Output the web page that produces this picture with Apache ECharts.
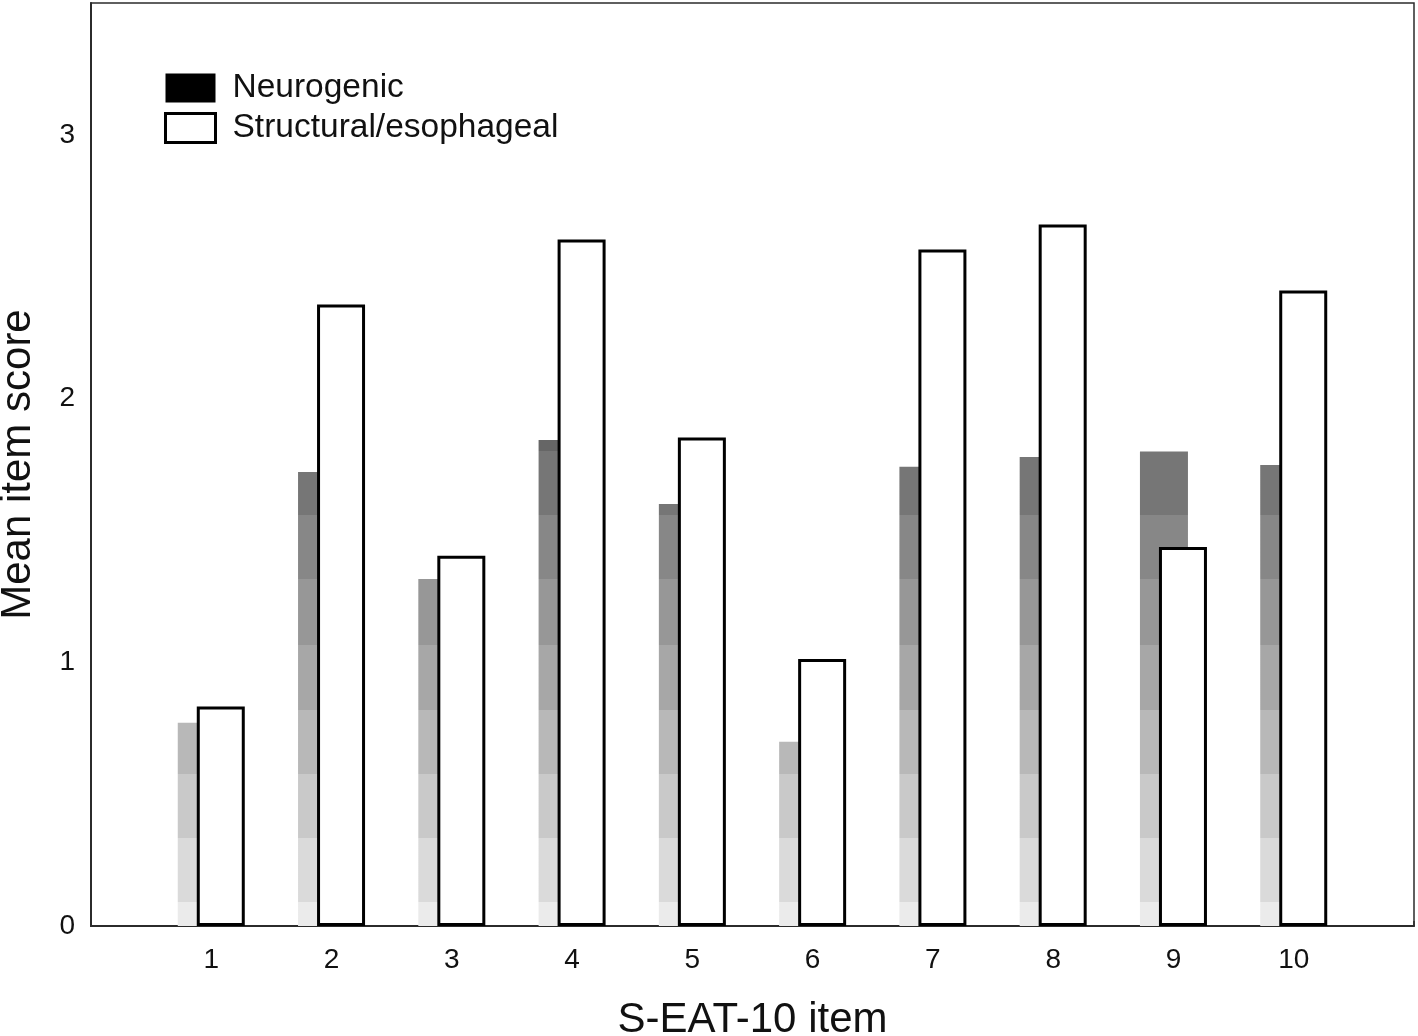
<!DOCTYPE html>
<html>
<head>
<meta charset="utf-8">
<script src="https://cdn.jsdelivr.net/npm/echarts@6/dist/echarts.min.js"></script>
<style>
html,body{margin:0;padding:0;background:#fff;}
#chart{width:1418px;height:1036px;}
</style>
</head>
<body>
<div id="chart"></div>
<script>
// ---- data ----
const categories = ['1','2','3','4','5','6','7','8','9','10'];
const neurogenic = [0.771, 1.722, 1.316, 1.843, 1.600, 0.699, 1.741, 1.778, 1.799, 1.748];
const structural = [0.832, 2.357, 1.404, 2.603, 1.852, 1.012, 2.565, 2.660, 1.437, 2.410];
const yTicks = [0, 1, 2, 3];
const seriesNames = ['Neurogenic', 'Structural/esophageal'];
// stepped grey fill of the neurogenic bars (upper edge of each band, value units)
const bandEdges = [0.091, 0.334, 0.577, 0.820, 1.067, 1.314, 1.557, 1.800, 2.044];
const bandColors = ['#ebebeb','#dadada','#c9c9c9','#b8b8b8','#a7a7a7','#979797','#878787','#767676','#666666'];

function bandFill(v) {
  // build colour stops from the top of the bar (offset 0) down to the base (offset 1)
  const stops = [];
  for (let i = bandEdges.length - 1; i >= 0; i--) {
    const lower = i === 0 ? 0 : bandEdges[i - 1];
    const upper = bandEdges[i];
    if (lower >= v) continue;
    const top = (v - Math.min(upper, v)) / v;
    const bottom = (v - lower) / v;
    stops.push({offset: top, color: bandColors[i]});
    stops.push({offset: bottom, color: bandColors[i]});
  }
  return {type: 'linear', x: 0, y: 0, x2: 0, y2: 1, colorStops: stops, global: false};
}

const font = 'Liberation Sans, Arial, Helvetica, sans-serif';
const chart = echarts.init(document.getElementById('chart'), null, {renderer: 'canvas'});

const option = {
  animation: false,
  backgroundColor: '#fff',
  textStyle: {fontFamily: font, color: '#111'},
  grid: {
    left: 91, right: 4, top: 3, bottom: 110,
    outerBoundsMode: 'none',
    containLabel: false,
    show: true, borderColor: '#2b2b2b', borderWidth: 1.5, backgroundColor: 'transparent'
  },
  legend: {
    orient: 'vertical',
    left: 159, top: 66,
    itemWidth: 50, itemHeight: 29, itemGap: 6,
    selectedMode: false,
    textStyle: {fontFamily: font, fontSize: 33.5, color: '#111', padding: [0, 0, 0, 12]},
    data: [
      {name: seriesNames[0], icon: 'rect', itemStyle: {color: '#000', borderWidth: 0}},
      {name: seriesNames[1], icon: 'rect', itemStyle: {color: '#fff', borderColor: '#000', borderWidth: 3}}
    ]
  },
  xAxis: {
    type: 'value',
    min: 0, max: categories.length + 1, interval: 1,
    name: 'S-EAT-10 item',
    nameLocation: 'middle', nameGap: 73,
    nameTextStyle: {fontFamily: font, fontSize: 42, color: '#111'},
    axisLine: {show: true, onZero: false, lineStyle: {color: '#2b2b2b', width: 2}},
    axisTick: {show: true, inside: true, length: 5, lineStyle: {color: '#2b2b2b', width: 1.5}},
    splitLine: {show: false},
    axisLabel: {
      fontFamily: font, fontSize: 28, color: '#111', margin: 20,
      formatter: v => (v >= 1 && v <= categories.length) ? categories[v - 1] : ''
    }
  },
  yAxis: {
    type: 'value',
    min: 0, max: 3.5, interval: 1,
    name: 'Mean item score',
    nameLocation: 'middle', nameGap: 52, nameRotate: 90,
    nameTextStyle: {fontFamily: font, fontSize: 42, color: '#111'},
    axisLine: {show: true, onZero: false, lineStyle: {color: '#2b2b2b', width: 2}},
    axisTick: {show: false},
    splitLine: {show: false},
    axisLabel: {
      fontFamily: font, fontSize: 28, color: '#111', margin: 16,
      formatter: v => yTicks.includes(v) ? String(v) : ''
    }
  },
  series: [
    {
      name: seriesNames[0],
      type: 'bar',
      barWidth: 48,
      barGap: '-60.4%',
      itemStyle: {color: '#000'},
      data: neurogenic.map((v, i) => ({value: [i + 1, v], itemStyle: {color: bandFill(v)}}))
    },
    {
      name: seriesNames[1],
      type: 'bar',
      barWidth: 48,
      barGap: '-60.4%',
      itemStyle: {color: '#fff', borderColor: '#000', borderWidth: 3},
      data: structural.map((v, i) => [i + 1, v])
    }
  ]
};
chart.setOption(option);
</script>
</body>
</html>
